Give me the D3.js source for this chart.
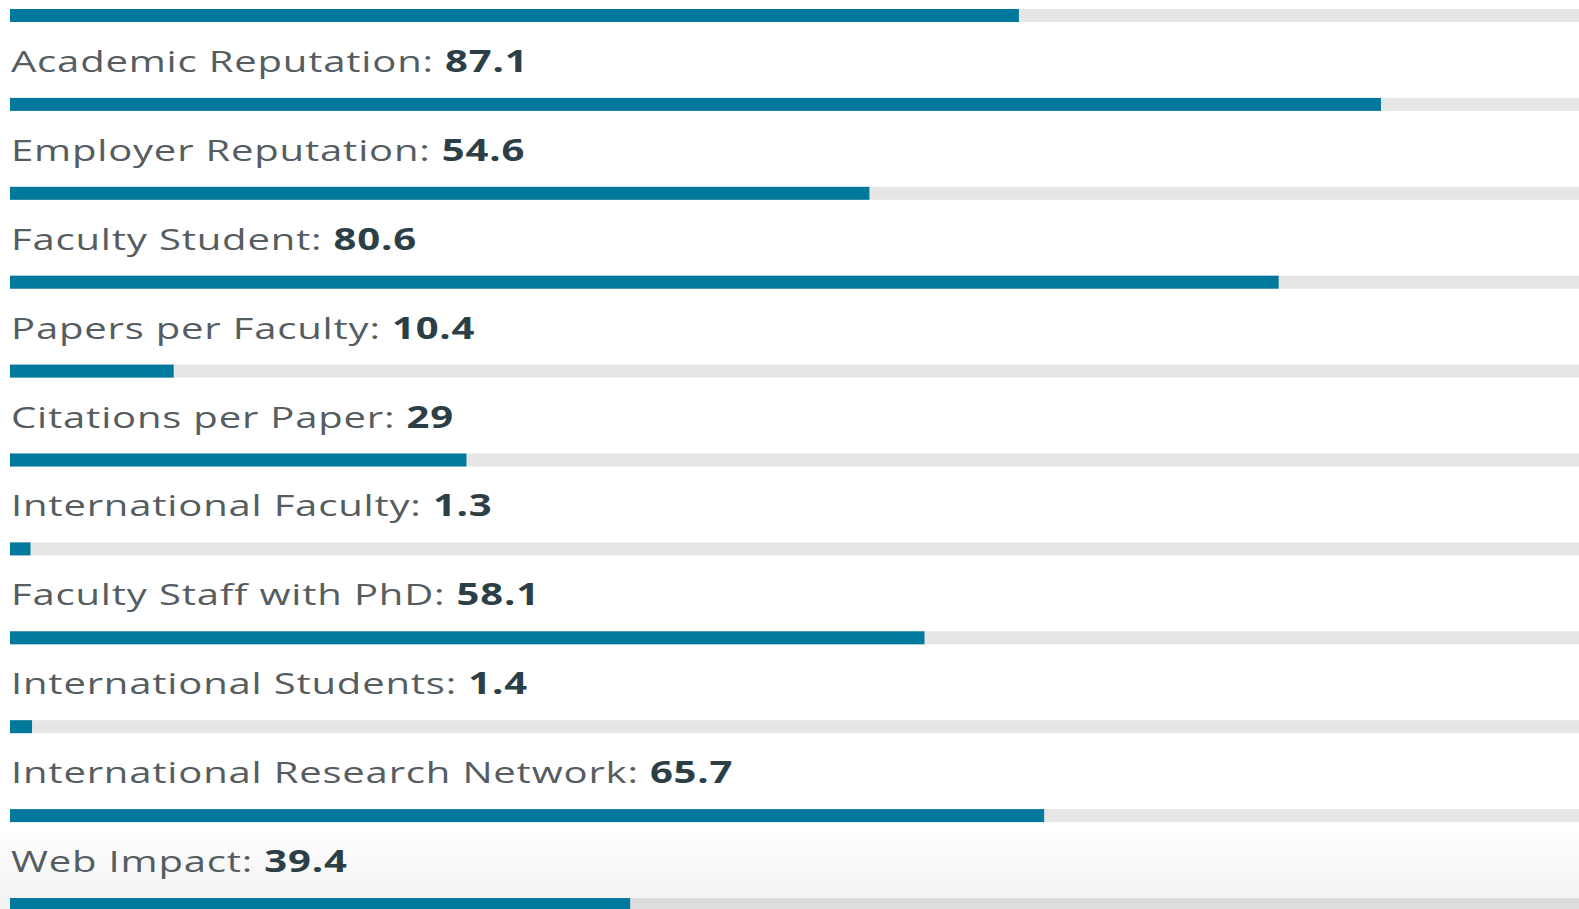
<!DOCTYPE html>
<html>
<head>
<meta charset="utf-8">
<script src="https://cdn.jsdelivr.net/npm/d3@7"></script>
<style>
  html, body { margin: 0; padding: 0; background: #fff; overflow: hidden; }
  svg { display: block; }
</style>
</head>
<body>
<script>
// first bar belongs to an indicator whose label is scrolled out of view
let labels = [
    null,
    'Academic Reputation',
    'Employer Reputation',
    'Faculty Student',
    'Papers per Faculty',
    'Citations per Paper',
    'International Faculty',
    'Faculty Staff with PhD',
    'International Students',
    'International Research Network',
    'Web Impact'];
let scores = [64.1, 87.1, 54.6, 80.6, 10.4, 29, 1.3, 58.1, 1.4, 65.7, 39.4];
let valueText = ['', '87.1', '54.6', '80.6', '10.4', '29', '1.3', '58.1', '1.4', '65.7', '39.4'];

let width = 1579,
    height = 909;

let barHeight = 13;

let x = d3.scaleLinear()
    .domain([0,100])
    .range([10,1584]);

let y = d3.scaleLinear()
    .domain([0,10])
    .range([9,898]);

let svg = d3.select("body")
    .append("svg")
    .attr("width", width)
    .attr("height", height);

let defs = svg.append("defs");
let fade = defs.append("linearGradient")
    .attr("id","fade")
    .attr("x1",0).attr("x2",0).attr("y1",0).attr("y2",1);
fade.append("stop").attr("offset","0%").attr("stop-color","#ffffff");
fade.append("stop").attr("offset","100%").attr("stop-color","#f2f2f2");

svg.append("rect")
    .attr("x",0).attr("y",825)
    .attr("width",width).attr("height",height-825)
    .attr("fill","url(#fade)");

let rows = svg.selectAll("g.row")
    .data(scores)
    .enter()
    .append("g")
    .attr("class","row")
    .attr("transform",(d,i) => `translate(0,${y(i)})`);

rows.append("rect")
    .attr("class","track")
    .attr("x", x(0))
    .attr("width", x(100) - x(0))
    .attr("height", barHeight)
    .attr("fill", (d,i) => i == scores.length - 1 ? "#dddddd" : "#e6e6e6");

rows.append("rect")
    .attr("class","bar")
    .attr("x", x(0))
    .attr("width", (d) => x(d) - x(0))
    .attr("height", barHeight)
    .attr("fill","#00799c");

// the source screenshot is stretched sideways, so the labels are too
let label = rows.filter((d,i) => labels[i] != null)
    .append("text")
    .attr("transform", `translate(${x(0) + 1},-26) scale(1.335,1)`)
    .style("font-family","'Open Sans', sans-serif")
    .style("font-size","30px")
    .style("letter-spacing","0.6px");

label.append("tspan")
    .attr("fill","#555d61")
    .text((d) => labels[scores.indexOf(d)] + ": ");

label.append("tspan")
    .attr("fill","#2c3f46")
    .style("font-weight","bold")
    .text((d) => valueText[scores.indexOf(d)]);
</script>
</body>
</html>
